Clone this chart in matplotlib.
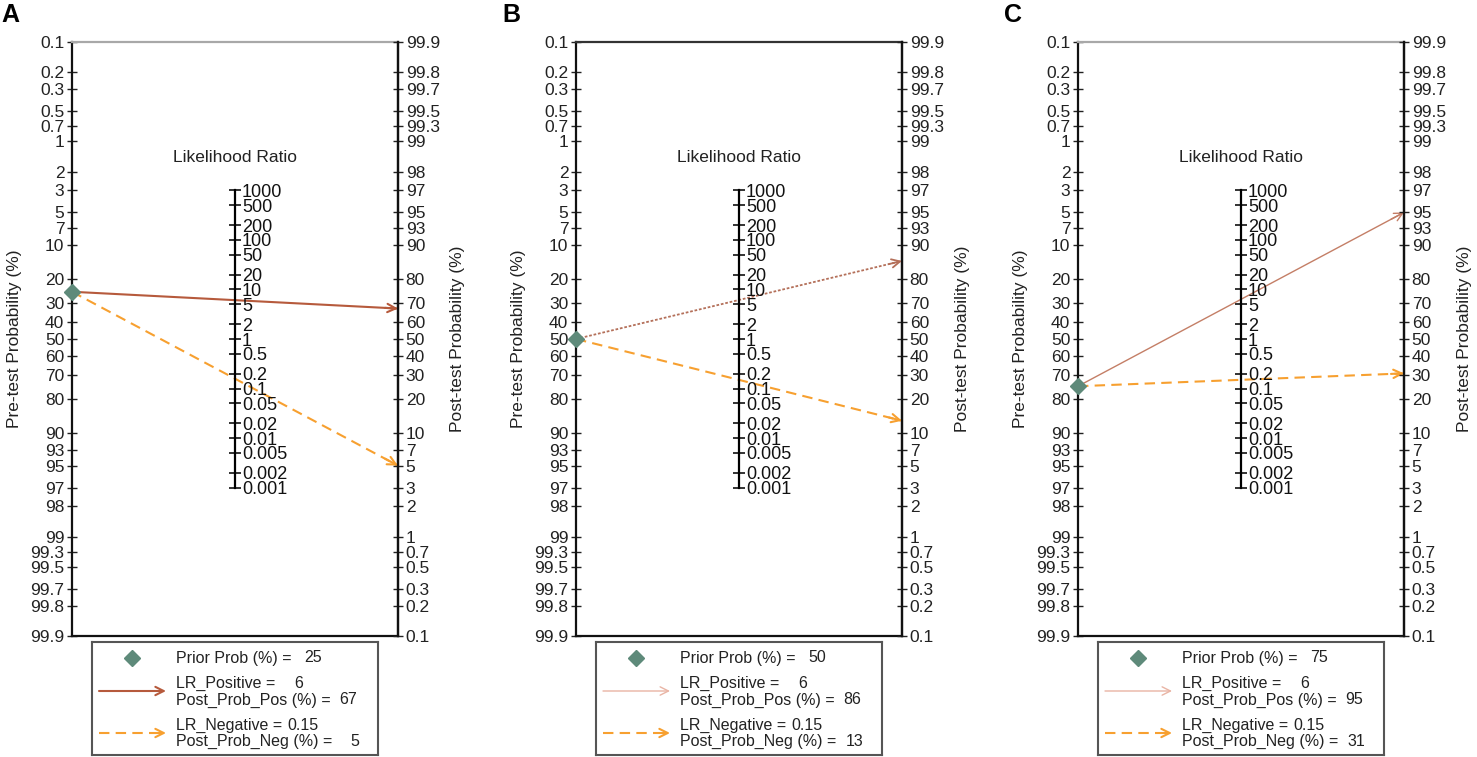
import numpy as np
import matplotlib
matplotlib.use("Agg")
import matplotlib.pyplot as plt

plt.rcParams['font.family'] = ['Liberation Sans', 'DejaVu Sans']

# ---------------- data ----------------
panel_labels = ["A", "B", "C"]
prior_prob = [25, 50, 75]
lr_positive = [6, 6, 6]
lr_negative = [0.15, 0.15, 0.15]
post_prob_pos = [67, 86, 95]
post_prob_neg = [5, 13, 31]

pre_ticks = [0.1, 0.2, 0.3, 0.5, 0.7, 1, 2, 3, 5, 7, 10, 20, 30, 40, 50, 60, 70, 80,
             90, 93, 95, 97, 98, 99, 99.3, 99.5, 99.7, 99.8, 99.9]
post_ticks = [99.9, 99.8, 99.7, 99.5, 99.3, 99, 98, 97, 95, 93, 90, 80, 70, 60, 50, 40,
              30, 20, 10, 7, 5, 3, 2, 1, 0.7, 0.5, 0.3, 0.2, 0.1]
lr_ticks = [1000, 500, 200, 100, 50, 20, 10, 5, 2, 1, 0.5, 0.2, 0.1, 0.05, 0.02, 0.01,
            0.005, 0.002, 0.001]
pre_tick_labels = ["0.1", "0.2", "0.3", "0.5", "0.7", "1", "2", "3", "5", "7", "10", "20",
                   "30", "40", "50", "60", "70", "80", "90", "93", "95", "97", "98", "99",
                   "99.3", "99.5", "99.7", "99.8", "99.9"]
post_tick_labels = ["99.9", "99.8", "99.7", "99.5", "99.3", "99", "98", "97", "95", "93",
                    "90", "80", "70", "60", "50", "40", "30", "20", "10", "7", "5", "3",
                    "2", "1", "0.7", "0.5", "0.3", "0.2", "0.1"]
lr_tick_labels = ["1000", "500", "200", "100", "50", "20", "10", "5", "2", "1", "0.5",
                  "0.2", "0.1", "0.05", "0.02", "0.01", "0.005", "0.002", "0.001"]

# ---------------- styles ----------------
pos_styles = [dict(color="#b65a3c", lw=1.5, ls="-"),
              dict(color="#b4705a", lw=1.3, ls=(0, (1.5, 1.0))),
              dict(color="#c47e66", lw=1.0, ls="-")]
pos_leg_colors = ["#b65a3c", "#e9b4a4", "#e9b4a4"]
pos_leg_lw = [1.5, 1.0, 1.0]
neg_color = "#f7a030"
marker_color = "#5e8a7a"
top_spine_colors = ["#a8a8a8", "#333333", "#a8a8a8"]

W, H = 1477, 757
fig = plt.figure(figsize=(W / 100, H / 100), dpi=100)

def logit(p):
    return np.log(p / (1 - p))

ytop = logit(0.001)
ybot = logit(0.999)

panel_left_px = [72, 576, 1078]
panel_w_px = 326
top_px, bot_px = 42, 636
letter_x_px = [1, 502, 1004]
FS = 12.5

for i in range(3):
    lx = panel_left_px[i]
    ax = fig.add_axes([lx / W, (H - bot_px) / H, panel_w_px / W, (bot_px - top_px) / H])
    ax.set_xlim(0, 1)
    ax.set_ylim(ybot, ytop)  # inverted
    ax.set_xticks([])
    for s in ["left", "right", "bottom"]:
        ax.spines[s].set_color("#111111")
        ax.spines[s].set_linewidth(1.6)
    ax.spines["top"].set_color(top_spine_colors[i])
    ax.spines["top"].set_linewidth(1.6)

    # left: pre-test probability
    ax.set_yticks([logit(p / 100) for p in pre_ticks])
    ax.set_yticklabels(pre_tick_labels)
    ax.tick_params(axis="y", direction="inout", length=7, width=1.0, pad=2,
                   labelsize=FS, colors="#222222")

    # right: post-test probability
    axr = ax.twinx()
    axr.set_ylim(ybot, ytop)
    axr.set_yticks([-logit(p / 100) for p in post_ticks])
    axr.set_yticklabels(post_tick_labels)
    axr.tick_params(axis="y", direction="inout", length=7, width=1.0, pad=2,
                    labelsize=FS, colors="#222222")
    for s in ["left", "top", "bottom"]:
        axr.spines[s].set_visible(False)
    axr.spines["right"].set_color("#111111")
    axr.spines["right"].set_linewidth(1.6)

    # middle: likelihood ratio axis
    axm = ax.twinx()
    axm.set_ylim(ybot, ytop)
    axm.patch.set_visible(False)
    for s in ["left", "top", "bottom"]:
        axm.spines[s].set_visible(False)
    axm.spines["right"].set_position(("axes", 0.5))
    lr_y = [-np.log(v) / 2 for v in lr_ticks]
    axm.spines["right"].set_bounds(min(lr_y), max(lr_y))
    axm.spines["right"].set_linewidth(1.6)
    axm.set_yticks(lr_y)
    axm.set_yticklabels(lr_tick_labels)
    axm.tick_params(axis="y", direction="inout", length=8, width=1.2, pad=1,
                    labelsize=FS + 0.5, colors="#111111")
    ax.text(0.5, 0.806, "Likelihood Ratio", transform=ax.transAxes, ha="center",
            va="center", fontsize=FS, color="#222222")

    # lines
    y_pre = logit(prior_prob[i] / 100)
    y_pos = -logit(post_prob_pos[i] / 100)
    y_neg = -logit(post_prob_neg[i] / 100)
    ps = pos_styles[i]
    ax.plot([0, 1], [y_pre, y_pos], color=ps["color"], lw=ps["lw"], ls=ps["ls"],
            clip_on=False, zorder=4)
    ax.plot([0, 1], [y_pre, y_neg], color=neg_color, lw=1.5, ls=(0, (5, 3)),
            clip_on=False, zorder=4)
    for yend, col, lw in [(y_pos, ps["color"], ps["lw"]), (y_neg, neg_color, 1.5)]:
        t = 0.96
        ax.annotate("", xy=(1, yend), xytext=(t, y_pre + t * (yend - y_pre)),
                    arrowprops=dict(arrowstyle="->,head_length=0.6,head_width=0.3",
                                    color=col, lw=lw, shrinkA=0, shrinkB=0),
                    annotation_clip=False, zorder=5)
    ax.plot([0], [y_pre], marker="D", color=marker_color, markersize=8,
            clip_on=False, zorder=6)

    # axis titles
    fig.text((lx - 57) / W, (H - 339) / H, "Pre-test Probability (%)", rotation=90,
             ha="center", va="center", fontsize=FS, color="#222222")
    fig.text((lx + panel_w_px + 60) / W, (H - 339) / H, "Post-test Probability (%)",
             rotation=90, ha="center", va="center", fontsize=FS, color="#222222")

    # panel letter
    fig.text(letter_x_px[i] / W, (H - 15) / H, panel_labels[i], ha="left", va="center",
             fontsize=18, fontweight="bold", color="black")

    # legend box
    bl, bt, bw, bh = lx + 20, 642, 286, 113
    lg = fig.add_axes([bl / W, (H - bt - bh) / H, bw / W, bh / H])
    lg.set_xlim(0, bw)
    lg.set_ylim(bh, 0)
    lg.set_xticks([])
    lg.set_yticks([])
    for s in lg.spines.values():
        s.set_color("#555555")
        s.set_linewidth(1.5)
    lg.plot([40], [16], marker="D", color=marker_color, markersize=8)
    lfs = 11.5
    tc = "#222222"
    lg.text(84, 16, "Prior Prob (%) =", fontsize=lfs, va="center", color=tc)
    lg.text(230, 16, f"{prior_prob[i]}", fontsize=lfs, va="center", ha="right", color=tc)
    lg.text(84, 41, "LR_Positive =", fontsize=lfs, va="center", color=tc)
    lg.text(211, 41, f"{lr_positive[i]}", fontsize=lfs, va="center", ha="right", color=tc)
    lg.text(84, 58, "Post_Prob_Pos (%) =", fontsize=lfs, va="center", color=tc)
    lg.text(265, 58, f"{post_prob_pos[i]}", fontsize=lfs, va="center", ha="right", color=tc)
    lg.text(84, 83, "LR_Negative =", fontsize=lfs, va="center", color=tc)
    lg.text(226, 83, f"{lr_negative[i]}", fontsize=lfs, va="center", ha="right", color=tc)
    lg.text(84, 99, "Post_Prob_Neg (%) =", fontsize=lfs, va="center", color=tc)
    lg.text(267, 99, f"{post_prob_neg[i]}", fontsize=lfs, va="center", ha="right", color=tc)
    lg.annotate("", xy=(74, 49), xytext=(7, 49),
                arrowprops=dict(arrowstyle="->,head_length=0.6,head_width=0.3",
                                color=pos_leg_colors[i], lw=pos_leg_lw[i],
                                shrinkA=0, shrinkB=0))
    lg.plot([7, 68], [91, 91], color=neg_color, lw=1.5, ls=(0, (5, 3)))
    lg.annotate("", xy=(74, 91), xytext=(66, 91),
                arrowprops=dict(arrowstyle="->,head_length=0.6,head_width=0.3",
                                color=neg_color, lw=1.5, shrinkA=0, shrinkB=0))

fig.savefig("out.png", dpi=100)
